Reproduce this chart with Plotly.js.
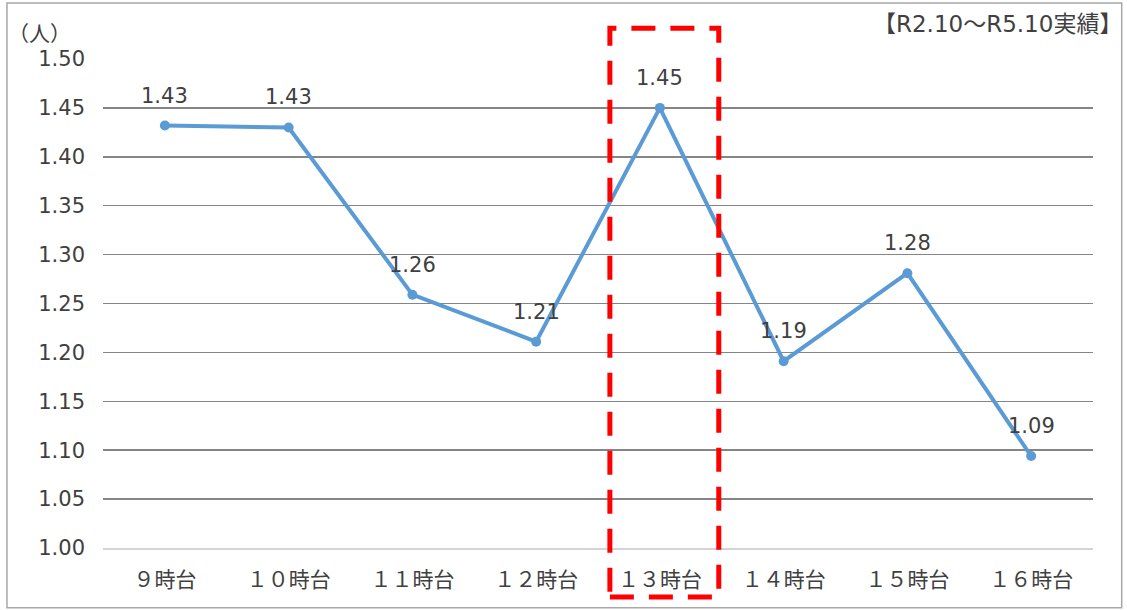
<!DOCTYPE html>
<html><head><meta charset="utf-8">
<script src="https://cdn.plot.ly/plotly-3.0.1.min.js"></script>
<style>html,body{margin:0;padding:0;background:#fff;}#chart{width:1127px;height:610px;}</style>
</head><body><div id="chart"></div>
<script>
const categories = ['９時台','１０時台','１１時台','１２時台','１３時台','１４時台','１５時台','１６時台'];
const values = [1.432, 1.430, 1.259, 1.211, 1.450, 1.191, 1.281, 1.094];
const labels = ['1.43','1.43','1.26','1.21','1.45','1.19','1.28','1.09'];
const yTicks = [1.00,1.05,1.10,1.15,1.20,1.25,1.30,1.35,1.40,1.45,1.50];
const highlightCategory = '１３時台';
const unitLabel = '（人）';
const periodNote = '【R2.10～R5.10実績】';

const FONT = '"DejaVu Sans", "Noto Sans CJK JP", sans-serif';
const CJK = '"Noto Sans CJK JP", "DejaVu Sans", sans-serif';
const TXT = '#404040';
const hi = categories.indexOf(highlightCategory);

const trace = {
  x: categories, y: values, type: 'scatter', mode: 'lines+markers',
  line: {color: '#5b9bd5', width: 4},
  marker: {color: '#5b9bd5', size: 10},
  hoverinfo: 'skip'
};

const annotations = categories.map((c,i)=>({
  x: c, y: values[i], xref:'x', yref:'y', text: labels[i], showarrow:false,
  yshift: 30, font:{family:FONT, size:21, color:TXT}
}));
annotations.push({xref:'paper', yref:'paper', x:-0.064, y:1.055, xanchor:'center', yanchor:'middle',
  text: unitLabel, showarrow:false, font:{family:CJK, size:21, color:TXT}});
annotations.push({xref:'paper', yref:'paper', x:1.031, y:1.072, xanchor:'right', yanchor:'middle',
  text: periodNote, showarrow:false, font:{family:FONT, size:23, color:TXT}});

const layout = {
  width:1127, height:610,
  margin:{l:103, r:34, t:59, b:62},
  paper_bgcolor:'#fff', plot_bgcolor:'#fff',
  showlegend:false,
  xaxis:{type:'category', range:[-0.5, categories.length-0.5], showgrid:false, zeroline:false, showline:true, linecolor:'#d4d4d4', linewidth:1.5,
    ticks:'', ticklabelstandoff:12, tickfont:{family:CJK, size:21, color:TXT}, fixedrange:true},
  yaxis:{range:[1.0,1.5], tickvals:yTicks, ticktext:yTicks.map(v=>v.toFixed(2)),
    showgrid:true, gridcolor:'#858585', gridwidth:1.5, zeroline:false, showline:false, ticks:'',
    ticklabelstandoff:17, tickfont:{family:FONT, size:21, color:TXT}, fixedrange:true},
  annotations: annotations,
  shapes:[
    {type:'rect', xref:'x', yref:'paper', x0:hi-0.404, x1:hi+0.476, y0:-0.1, y1:1.063,
      line:{color:'#ff0000', width:5, dash:'24px,15px'}, fillcolor:'rgba(0,0,0,0)', layer:'above'},
    {type:'rect', xref:'paper', yref:'paper', x0:-0.097, x1:1.029, y0:-0.122, y1:1.1145,
      line:{color:'#a8a8a8', width:1.5}, fillcolor:'rgba(0,0,0,0)', layer:'below'}
  ]
};
Plotly.newPlot('chart', [trace], layout, {displayModeBar:false, staticPlot:true});
</script></body></html>
